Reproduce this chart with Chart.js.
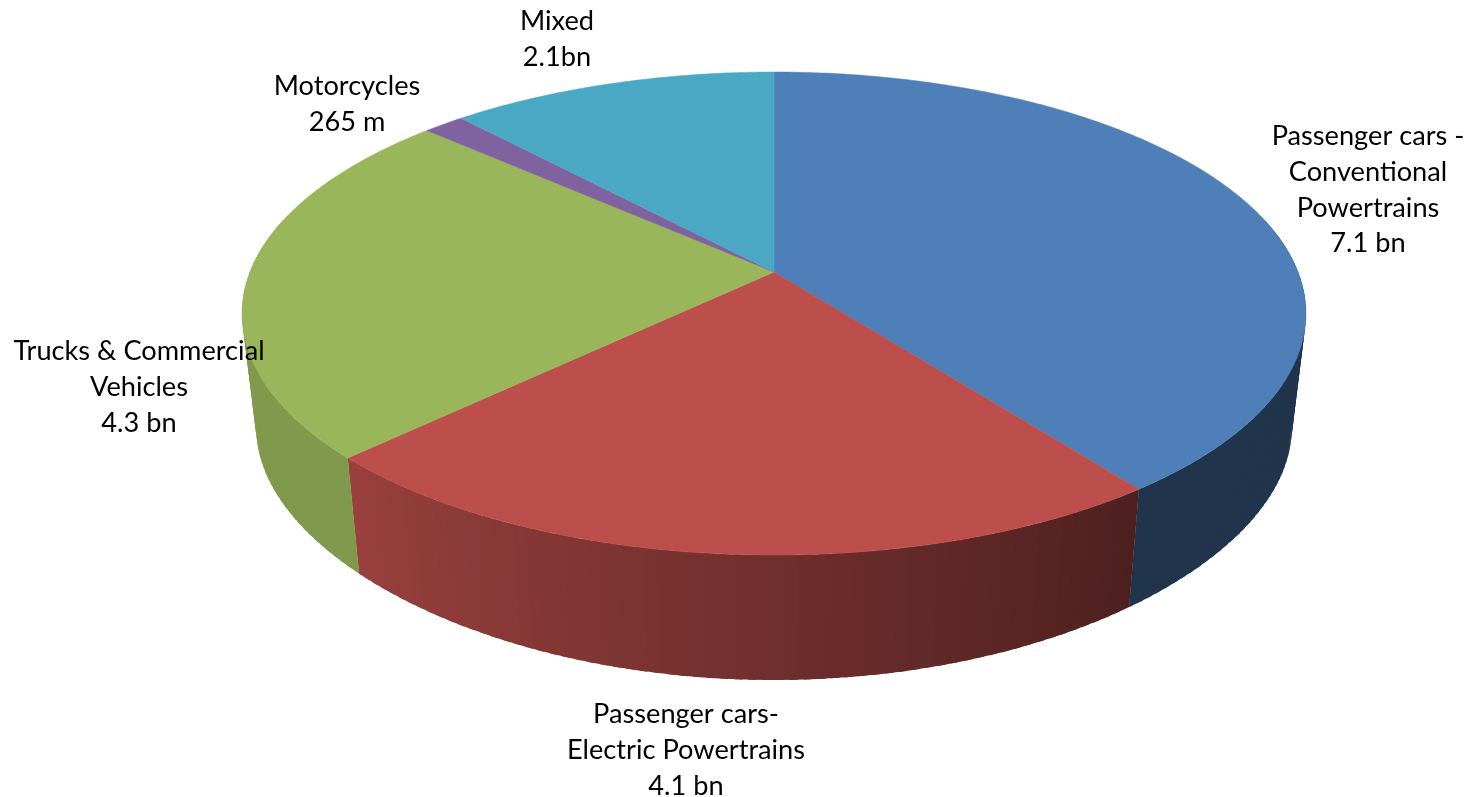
<!DOCTYPE html>
<html lang="en">
<head>
    <meta charset="UTF-8">
    <title>Pie</title>
    <style>
        html, body { margin: 0; padding: 0; background: #fff; }
        canvas { display: block; }
    </style>
</head>
<body>
    <canvas id="myChart" width="1480" height="797"></canvas>
    <script src="https://cdn.jsdelivr.net/npm/chart.js@4/dist/chart.umd.js"></script>
    <script>
        const categories = ['Passenger cars - Conventional Powertrains', 'Passenger cars- Electric Powertrains', 'Trucks & Commercial Vehicles', 'Motorcycles', 'Mixed'];
        const values = [7.1, 4.1, 4.3, 0.265, 2.1];
        const sliceColors = ['#4e7fb9', '#bc4f4c', '#99b65a', '#8062a0', '#4ba8c4'];
        const labelLines = [
            ['Passenger cars -', 'Conventional', 'Powertrains', '7.1 bn'],
            ['Passenger cars-', 'Electric Powertrains', '4.1 bn'],
            ['Trucks & Commercial', 'Vehicles', '4.3 bn'],
            ['Motorcycles', '265 m'],
            ['Mixed', '2.1bn']
        ];

        // where each label block sits: centre x, first baseline
        const labelAnchors = [[1368, 145], [686, 723], [139, 360], [347, 95], [557, 30]];
        // wall brightness at the start and end of each slice
        const wallShade = [[0.41, 0.41], [0.41, 0.82], [0.84, 0.84], [0.84, 0.84], [0.41, 0.41]];

        // perspective of the disc, u = cos(angle), v = sin(angle)
        function topPoint(a) {
            const u = Math.cos(a), v = Math.sin(a), w = 1 - 0.172 * v;
            return [774 + 524 * u / w, (272 + 187.6 * v) / w];
        }
        function bottomPoint(a) {
            const u = Math.cos(a), v = Math.sin(a);
            return [774 + 510 * u / (1 - 0.172 * v), (389 + 121 * v) / (1 - 0.25 * v)];
        }

        function shade(hex, f) {
            const n = parseInt(hex.slice(1), 16);
            return 'rgb(' + Math.round((n >> 16) * f) + ',' + Math.round(((n >> 8) & 255) * f) + ',' + Math.round((n & 255) * f) + ')';
        }

        const pie3d = {
            id: 'pie3d',
            beforeDatasetDraw(chart, args) {
                const ctx = chart.ctx;
                const arcs = args.meta.data;
                const step = Math.PI / 140;
                ctx.save();

                // side walls, only the part facing the viewer
                arcs.forEach(function (arc, i) {
                    const p = arc.getProps(['startAngle', 'endAngle'], true);
                    const from = Math.max(p.startAngle, -0.25);
                    const to = Math.min(p.endAngle, Math.PI + 0.25);
                    for (let a = from; a < to; a += step) {
                        // each strip runs a bit under the next one so no seams show
                        const b = Math.min(a + step * 1.6, to);
                        const t = (a - p.startAngle) / (p.endAngle - p.startAngle);
                        const t1 = topPoint(a), t2 = topPoint(b), b1 = bottomPoint(a), b2 = bottomPoint(b);
                        ctx.beginPath();
                        ctx.moveTo(t1[0], t1[1]);
                        ctx.lineTo(t2[0], t2[1]);
                        ctx.lineTo(b2[0], b2[1]);
                        ctx.lineTo(b1[0], b1[1]);
                        ctx.closePath();
                        ctx.fillStyle = shade(arc.options.backgroundColor, wallShade[i][0] + (wallShade[i][1] - wallShade[i][0]) * t);
                        ctx.fill();
                    }
                });

                // top of the disc
                arcs.forEach(function (arc) {
                    const p = arc.getProps(['startAngle', 'endAngle'], true);
                    ctx.beginPath();
                    ctx.moveTo(774, 272);
                    for (let a = p.startAngle; a < p.endAngle; a += step / 2) {
                        const q = topPoint(a);
                        ctx.lineTo(q[0], q[1]);
                    }
                    const e = topPoint(p.endAngle);
                    ctx.lineTo(e[0], e[1]);
                    ctx.closePath();
                    ctx.fillStyle = arc.options.backgroundColor;
                    ctx.strokeStyle = arc.options.backgroundColor;
                    ctx.lineWidth = 0.5;
                    ctx.fill();
                    ctx.stroke();
                });

                ctx.restore();
                return false;
            },
            afterDraw(chart) {
                const ctx = chart.ctx;
                ctx.save();
                ctx.fillStyle = '#000';
                ctx.font = '27.2px Lato';
                ctx.textAlign = 'center';
                ctx.textBaseline = 'alphabetic';
                labelLines.forEach(function (lines, i) {
                    lines.forEach(function (line, j) {
                        ctx.fillText(line, labelAnchors[i][0], labelAnchors[i][1] + j * 35.8);
                    });
                });
                ctx.restore();
            }
        };

        const ctx1 = document.getElementById('myChart').getContext('2d');
        const myChart = new Chart(ctx1, {
            type: 'pie',
            data: {
                labels: categories,
                datasets: [{
                    data: values,
                    backgroundColor: sliceColors,
                    borderWidth: 0
                }]
            },
            options: {
                responsive: false,
                animation: false,
                plugins: {
                    legend: { display: false },
                    tooltip: { enabled: false },
                    title: { display: false }
                }
            },
            plugins: [pie3d]
        });
    </script>
</body>
</html>
